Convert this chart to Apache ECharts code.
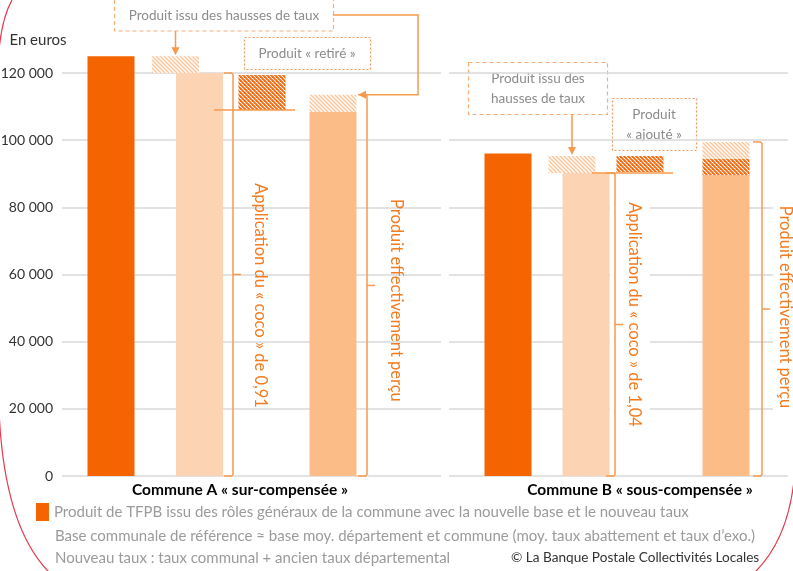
<!DOCTYPE html>
<html>
<head>
<meta charset="utf-8">
<script src="https://cdn.jsdelivr.net/npm/echarts@6/dist/echarts.min.js"></script>
<style>
  html, body { margin: 0; padding: 0; background: #fff; }
  #chart { width: 793px; height: 571px; }
</style>
</head>
<body>
<div id="chart"></div>
<script>
// données
const communes = ['Commune A « sur-compensée »', 'Commune B « sous-compensée »'];
const yTicks = [0, 20000, 40000, 60000, 80000, 100000, 120000];
const produitNouveau = [125000, 96000];      // barre foncée
const produitCoco = [120000, 90200];         // base avant coco
const hausseTaux = [5000, 5100];             // hachuré clair au-dessus
const cocoDebut = [119400, 90500];           // produit retiré / ajouté
const cocoFin = [109000, 95300];
const produitPercu = [108400, 89600];        // 3e barre
const percuAjoute = [0, 4800];
const percuHausse = [5100, 5050];
const cocoLabels = ['Application du « coco » de 0,91', 'Application du « coco » de 1,04'];
const percuLabel = 'Produit effectivement perçu';
const legendLabel = 'Produit de TFPB issu des rôles généraux de la commune avec la nouvelle base et le nouveau taux';

const FONT = 'Lato';
const DARK = '#F46400', LIGHT = '#FDD4B3', MID = '#FCBC87', LINE = '#F79A4E', TXT = '#F37B21';

function hatch(color, lw) {
  const c = document.createElement('canvas');
  c.width = c.height = 4;
  const g = c.getContext('2d');
  g.fillStyle = '#fff';
  g.fillRect(0, 0, 4, 4);
  g.strokeStyle = color;
  g.lineWidth = lw;
  for (const d of [-4, 0, 4]) {
    g.beginPath(); g.moveTo(d - 1, -1); g.lineTo(d + 5, 5); g.stroke();
  }
  return { image: c, repeat: 'repeat' };
}
const hatchLight = hatch('#FCC59A', 1.5);
const hatchDark = hatch('#F26A12', 1.9);

// décalages horizontaux (px) par rapport au centre de la catégorie
const layout = [
  { bar1: -140.5, hatch: -76, bar2: -52, coco: 10.5, bar3: 81.5, brCoco: -18.5, txtCoco: 8.5, dyCoco: 21,
    brPercu: 115.5, txtPercu: 144.5, dyPercu: 15, strips: false,
    arrowDown: 31, elbow: { from: [333, 15], x: 418 } },
  { bar1: -110.5, hatch: -46.5, bar2: -32.5, coco: 21.5, bar3: 107.5, brCoco: -3.5, txtCoco: 15.5, dyCoco: -10,
    brPercu: 143.5, txtPercu: 166.5, dyPercu: -2, strips: true,
    arrowDown: 114, elbow: null }
];

const BW = 47;

function makeRender(i) {
  const L = layout[i];
  return function (params, api) {
    const cx = api.coord([0, 0])[0];
    const yOf = v => api.coord([0, v])[1];
    const y0 = yOf(0);
    const kids = [];
    const bar = (off, a, b, fill) => {
      const lo = Math.min(a, b), hi = Math.max(a, b);
      kids.push({ type: 'rect', shape: { x: cx + off - BW / 2, y: yOf(hi), width: BW, height: yOf(lo) - yOf(hi) }, style: { fill } });
    };
    const lineStyle = { stroke: LINE, lineWidth: 1.5, fill: null };
    const bracket = (x, top) => {
      const yT = yOf(top), yM = (yT + y0) / 2;
      kids.push({ type: 'polyline', shape: { points: [[x - 9, yT], [x - 1.5, yT], [x, yT + 1.5], [x, y0 - 1.5], [x - 1.5, y0], [x - 9, y0]] }, style: lineStyle });
      kids.push({ type: 'line', shape: { x1: x, y1: yM, x2: x + 8, y2: yM }, style: lineStyle });
      return yM;
    };
    const vtext = (x, y, text) => kids.push({
      type: 'text', x, y, rotation: -Math.PI / 2,
      style: { text, fill: TXT, font: '16.5px ' + FONT, align: 'center', verticalAlign: 'middle' }
    });

    const top2 = produitCoco[i];
    const top3 = produitPercu[i] + percuAjoute[i] + percuHausse[i];

    if (L.strips) {
      kids.push({ type: 'rect', shape: { x: cx + L.brCoco - 5, y: yOf(top2) + 8, width: 40, height: y0 - yOf(top2) - 14 }, style: { fill: '#fff' } });
      kids.push({ type: 'rect', shape: { x: cx + L.brPercu + 11, y: yOf(top3) + 10, width: 40, height: y0 - yOf(top3) - 16 }, style: { fill: '#fff' } });
    }

    bar(L.bar1, 0, produitNouveau[i], DARK);
    bar(L.bar2, 0, produitCoco[i], LIGHT);
    bar(L.hatch, produitCoco[i], produitCoco[i] + hausseTaux[i], hatchLight);
    bar(L.coco, cocoDebut[i], cocoFin[i], hatchDark);
    bar(L.bar3, 0, produitPercu[i], MID);
    if (percuAjoute[i]) bar(L.bar3, produitPercu[i], produitPercu[i] + percuAjoute[i], hatchDark);
    bar(L.bar3, produitPercu[i] + percuAjoute[i], top3, hatchLight);

    // trait horizontal sous le produit retiré / ajouté
    const yLine = yOf(Math.min(cocoDebut[i], cocoFin[i], produitCoco[i]));
    kids.push({ type: 'line', shape: { x1: cx + L.coco - 48, y1: yLine, x2: cx + L.coco + 33, y2: yLine }, style: lineStyle });

    const mC = bracket(cx + L.brCoco, top2);
    const mP = bracket(cx + L.brPercu, top3);
    vtext(cx + L.txtCoco, mC + L.dyCoco, cocoLabels[i]);
    vtext(cx + L.txtPercu, mP + L.dyPercu, percuLabel);

    // flèches des encadrés
    const ax = cx + L.hatch;
    const aTip = yOf(produitCoco[i] + hausseTaux[i]) - 1;
    kids.push({ type: 'line', shape: { x1: ax, y1: L.arrowDown, x2: ax, y2: aTip - 7 }, style: lineStyle });
    kids.push({ type: 'polygon', shape: { points: [[ax - 4, aTip - 8], [ax + 4, aTip - 8], [ax, aTip]] }, style: { fill: LINE } });
    if (L.elbow) {
      const yT = yOf(top3);
      const xr = cx + L.bar3 + BW / 2 + 1.5;
      kids.push({ type: 'polyline', shape: { points: [L.elbow.from, [L.elbow.x, L.elbow.from[1]], [L.elbow.x, yT], [xr + 7, yT]] }, style: lineStyle });
      kids.push({ type: 'polygon', shape: { points: [[xr + 8, yT - 4], [xr + 8, yT + 4], [xr, yT]] }, style: { fill: LINE } });
    }
    return { type: 'group', children: kids };
  };
}

const fmt = v => String(v).replace(/\B(?=(\d{3})+(?!\d))/g, ' ');
const split = { show: true, lineStyle: { color: '#D9D9D9', width: 1.5 } };

const chart = echarts.init(document.getElementById('chart'));
const option = {
  animation: false,
  textStyle: { fontFamily: FONT },
  grid: [
    { left: 62, top: 73, width: 379, height: 403, outerBoundsMode: 'none', containLabel: false },
    { left: 449, top: 73, width: 339, height: 403, outerBoundsMode: 'none', containLabel: false }
  ],
  xAxis: [0, 1].map(i => ({
    type: 'category', gridIndex: i, data: [communes[i]],
    axisLine: { show: false }, axisTick: { show: false },
    axisLabel: {
      margin: 6, color: '#000', fontWeight: 'bold', fontSize: 15.5, fontFamily: FONT,
      padding: i === 0 ? [0, 23, 0, 0] : [0, 0, 0, 43]
    }
  })),
  yAxis: [0, 1].map(i => ({
    type: 'value', gridIndex: i, min: yTicks[0], max: yTicks[yTicks.length - 1], interval: yTicks[1] - yTicks[0],
    name: i === 0 ? 'En euros' : '', nameLocation: 'end', nameGap: 25,
    nameTextStyle: { color: '#333', fontSize: 15, fontFamily: FONT, padding: [0, 48, 0, 0] },
    axisLine: { show: false }, axisTick: { show: false },
    axisLabel: { show: i === 0, margin: 9, color: '#333', fontSize: 14, fontFamily: FONT, formatter: fmt },
    splitLine: split
  })),
  legend: {
    data: [legendLabel], left: 36, top: 503, padding: 0, icon: 'rect', itemWidth: 13, itemHeight: 18, itemGap: 5,
    selectedMode: false, textStyle: { color: '#9B9B9B', fontSize: 15, fontFamily: FONT }
  },
  series: [0, 1].map(i => ({
    type: 'custom', name: legendLabel, xAxisIndex: i, yAxisIndex: i,
    itemStyle: { color: DARK }, clip: false,
    data: [[0, produitNouveau[i]]],
    renderItem: makeRender(i)
  })),
  graphic: [
    // encadrés
    { type: 'rect', shape: { x: 114.5, y: -1, width: 219, height: 32 }, style: { fill: '#fff', stroke: '#F9AE7A', lineWidth: 1.2, lineDash: [4, 3] } },
    { type: 'text', x: 224, y: 16, style: { text: 'Produit issu des hausses de taux', fill: '#8C8C8C', font: '13.5px ' + FONT, align: 'center', verticalAlign: 'middle' } },
    { type: 'rect', shape: { x: 244.5, y: 37.5, width: 126, height: 32 }, style: { fill: '#fff', stroke: '#F59A62', lineWidth: 1.2, lineDash: [2, 2] } },
    { type: 'text', x: 307, y: 54, style: { text: 'Produit « retiré »', fill: '#8C8C8C', font: '13.5px ' + FONT, align: 'center', verticalAlign: 'middle' } },
    { type: 'rect', shape: { x: 468.5, y: 62.5, width: 139, height: 52 }, style: { fill: '#fff', stroke: '#F9AE7A', lineWidth: 1.2, lineDash: [4, 3] } },
    { type: 'text', x: 538, y: 89, style: { text: 'Produit issu des\nhausses de taux', lineHeight: 20, fill: '#8C8C8C', font: '13.5px ' + FONT, align: 'center', verticalAlign: 'middle' } },
    { type: 'rect', shape: { x: 612.5, y: 98.5, width: 84, height: 52 }, style: { fill: '#fff', stroke: '#F59A62', lineWidth: 1.2, lineDash: [2, 2] } },
    { type: 'text', x: 654, y: 125, style: { text: 'Produit\n« ajouté »', lineHeight: 20, fill: '#8C8C8C', font: '13.5px ' + FONT, align: 'center', verticalAlign: 'middle' } },
    // notes de bas
    { type: 'text', x: 55, y: 536, style: { text: 'Base communale de référence ≈ base moy. département et commune (moy. taux abattement et taux d’exo.)', fill: '#9B9B9B', font: '15px ' + FONT, verticalAlign: 'middle' } },
    { type: 'text', x: 55, y: 558, style: { text: 'Nouveau taux : taux communal + ancien taux départemental', fill: '#9B9B9B', font: '15px ' + FONT, verticalAlign: 'middle' } },
    { type: 'text', x: 511, y: 558, style: { text: '© La Banque Postale Collectivités Locales', fill: '#333', font: '13.6px ' + FONT, verticalAlign: 'middle' } },
    // cadre rouge arrondi
    { type: 'bezierCurve', shape: { x1: 12, y1: 0, cpx1: 2, cpy1: 18, x2: -1, y2: 50 }, style: { stroke: '#E53950', lineWidth: 1.2, fill: null } },
    { type: 'bezierCurve', shape: { x1: -1, y1: 410, cpx1: 4, cpy1: 530, x2: 52, y2: 575 }, style: { stroke: '#E53950', lineWidth: 1.2, fill: null } },
    { type: 'bezierCurve', shape: { x1: 795, y1: 470, cpx1: 790, cpy1: 540, x2: 752, y2: 575 }, style: { stroke: '#E53950', lineWidth: 1.2, fill: null } }
  ]
};
chart.setOption(option);
</script>
</body>
</html>
